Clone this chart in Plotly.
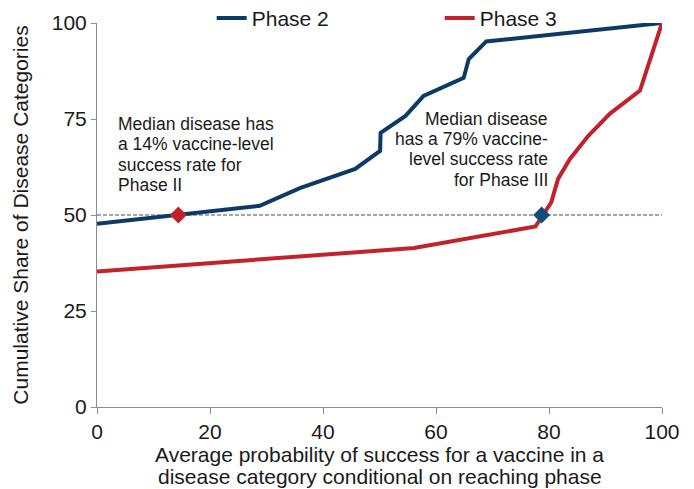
import plotly.graph_objects as go

# ---- data ----
phase2_x = [0, 28.8, 35.9, 45.7, 50.1, 50.2, 54.6, 57.8, 64.9, 65.8, 68.9, 100]
phase2_y = [47.7, 52.4, 57.0, 62.0, 66.7, 71.4, 75.8, 81.0, 85.7, 90.6, 95.2, 100]

phase3_x = [0, 56.1, 77.6, 79.0, 80.4, 81.6, 83.7, 87.0, 90.8, 96.1, 100]
phase3_y = [35.3, 41.4, 47.0, 50.0, 53.3, 59.4, 64.6, 70.7, 76.4, 82.4, 100]

median_level = 50
phase2_median_x = 14.4
phase3_median_x = 78.7

x_ticks = [0, 20, 40, 60, 80, 100]
y_ticks = [0, 25, 50, 75, 100]

note_phase2 = ["Median disease has", "a 14% vaccine-level", "success rate for", "Phase II"]
note_phase3 = ["Median disease", "has a 79% vaccine-", "level success rate", "for Phase III"]
x_title_lines = ["Average probability of success for a vaccine in a",
                 "disease category conditional on reaching phase"]

BLUE = "#0c3a67"
RED = "#c1222b"
BLUE_MK = "#0f4c7c"
FONT = "Liberation Sans, Arial, sans-serif"

fig = go.Figure()
fig.add_trace(go.Scatter(x=phase2_x, y=phase2_y, mode="lines", name="Phase 2",
                         line=dict(color=BLUE, width=4)))
fig.add_trace(go.Scatter(x=phase3_x, y=phase3_y, mode="lines", name="Phase 3",
                         line=dict(color=RED, width=4)))

# median reference line
fig.add_shape(type="line", xref="x", yref="y", x0=x_ticks[0], x1=x_ticks[-1],
              y0=median_level, y1=median_level,
              line=dict(color="#3f4f68", width=1, dash="4px,2px"), layer="below")

fig.add_trace(go.Scatter(x=[phase2_median_x], y=[median_level], mode="markers",
                         showlegend=False,
                         marker=dict(symbol="diamond", size=13, color=RED)))
fig.add_trace(go.Scatter(x=[phase3_median_x], y=[median_level], mode="markers",
                         showlegend=False,
                         marker=dict(symbol="diamond", size=13, color=BLUE_MK)))

# annotations, one per line to keep the tight line spacing
left_y = [73.8, 68.4, 62.9, 57.7]
for txt, yy in zip(note_phase2, left_y):
    fig.add_annotation(x=3.4, y=yy, xref="x", yref="y", text=txt, showarrow=False,
                       xanchor="left", yanchor="middle",
                       font=dict(family=FONT, size=17.5, color="#1a1a1a"))
right_y = [74.9, 69.7, 64.5, 59.2]
for txt, yy in zip(note_phase3, right_y):
    fig.add_annotation(x=80.2, y=yy, xref="x", yref="y", text=txt, showarrow=False,
                       xanchor="right", yanchor="middle",
                       font=dict(family=FONT, size=17.5, color="#1a1a1a"))

# x-axis title lines
for i, txt in enumerate(x_title_lines):
    fig.add_annotation(x=0.5, y=0, xref="paper", yref="paper", text=txt,
                       showarrow=False, xanchor="center", yanchor="middle",
                       yshift=-47 - 22 * i,
                       font=dict(family=FONT, size=21, color="#1a1a1a"))

# the page body has an 8px margin, so the figure is sized/offset to compensate
fig.update_layout(
    width=686, height=481,
    margin=dict(l=89, r=32, t=15, b=82, autoexpand=False),
    paper_bgcolor="white", plot_bgcolor="white",
    font=dict(family=FONT, size=21, color="#1a1a1a"),
    showlegend=True,
    legend=dict(orientation="h", x=0.203, y=1.012, xanchor="left", yanchor="middle",
                xref="paper", yref="paper", entrywidth=183, entrywidthmode="pixels",
                font=dict(family=FONT, size=21, color="#1a1a1a"),
                bgcolor="rgba(0,0,0,0)", borderwidth=0, itemclick=False),
    xaxis=dict(range=[0, 100], tickvals=x_ticks, ticks="outside", ticklen=6,
               tickcolor="#8c8c8c", showline=True, linecolor="#8c8c8c", linewidth=1,
               showgrid=False, zeroline=False,
               tickfont=dict(family=FONT, size=21, color="#1a1a1a")),
    yaxis=dict(range=[0, 100], tickvals=y_ticks, ticks="outside", ticklen=5,
               tickcolor="#8c8c8c", showline=True, linecolor="#8c8c8c", linewidth=1,
               showgrid=False, zeroline=False,
               tickfont=dict(family=FONT, size=21, color="#1a1a1a"),
               title=dict(text="Cumulative Share of Disease Categories", standoff=17,
                          font=dict(family=FONT, size=21, color="#1a1a1a"))),
)

fig.write_html("out.html")
